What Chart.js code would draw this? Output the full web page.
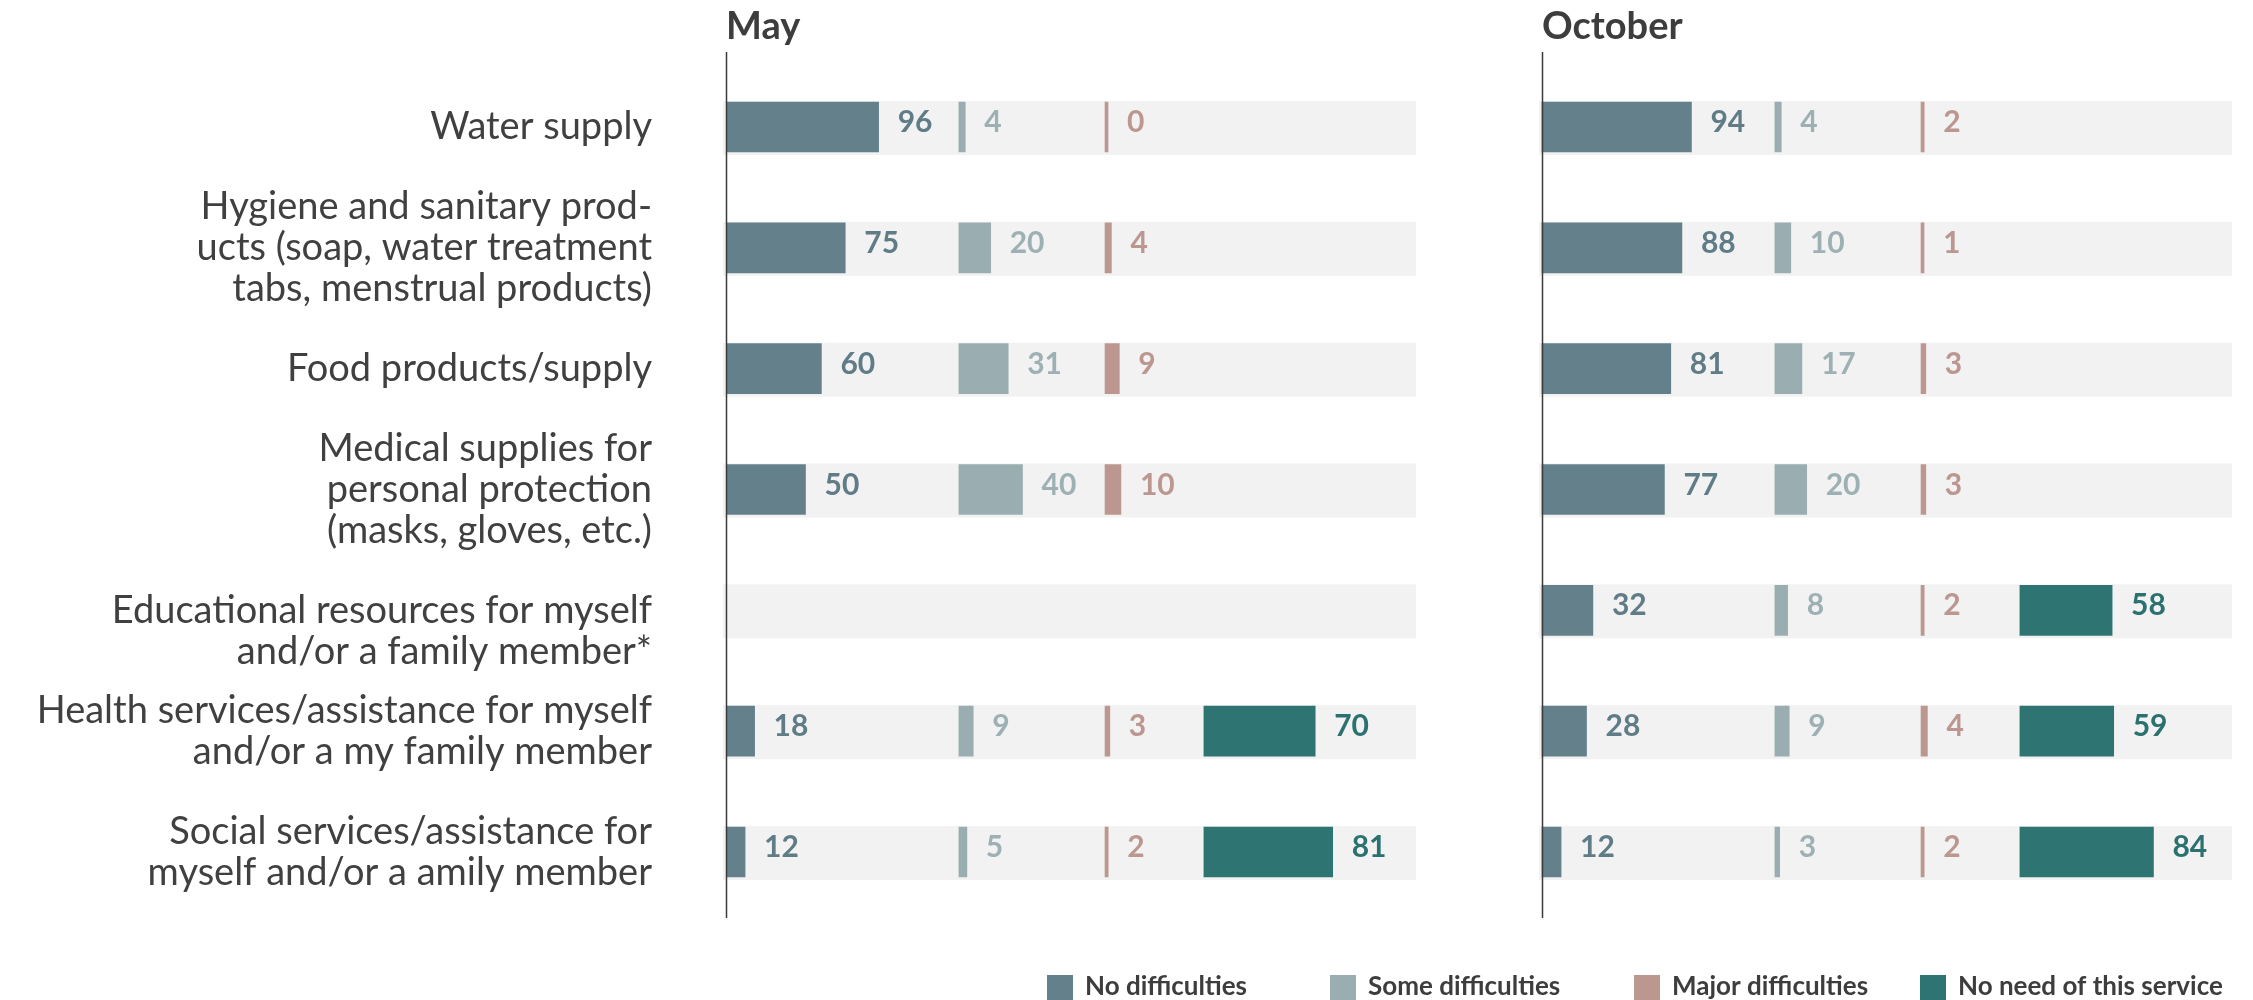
<!DOCTYPE html>
<html><head><meta charset="utf-8">
<script src="https://cdn.jsdelivr.net/npm/chart.js@4.4.1/dist/chart.umd.min.js"></script>
<style>html,body{margin:0;padding:0;background:#fff;}#wrap{position:relative;width:2253px;height:1000px;}</style>
</head><body><div id="wrap"><canvas id="chart" width="2253" height="1000"></canvas></div>
<script>
// ---------- data ----------
const categories = [
  "Water supply",
  ["Hygiene and sanitary prod-", "ucts (soap, water treatment", "tabs, menstrual products)"],
  "Food products/supply",
  ["Medical supplies for", "personal protection", "(masks, gloves, etc.)"],
  ["", "Educational resources for myself", "and/or a family member*"],
  ["Health services/assistance for myself", "and/or a my family member"],
  ["Social services/assistance for", "myself and/or a amily member"]
];
const periods = ["May", "October"];
const seriesNames = ["No difficulties", "Some difficulties", "Major difficulties", "No need of this service"];

const mayNoDifficulties    = [96, 75, 60, 50, null, 18, 12];
const maySomeDifficulties  = [4, 20, 31, 40, null, 9, 5];
const mayMajorDifficulties = [0, 4, 9, 10, null, 3, 2];
const mayNoNeed            = [null, null, null, null, null, 70, 81];

const octNoDifficulties    = [94, 88, 81, 77, 32, 28, 12];
const octSomeDifficulties  = [4, 10, 17, 20, 8, 9, 3];
const octMajorDifficulties = [2, 1, 3, 3, 2, 4, 2];
const octNoNeed            = [null, null, null, null, 58, 59, 84];

// ---------- layout / style ----------
const COLORS = ["#64808b", "#9aaeb1", "#bc978f", "#2d7473"];
const LABEL_COLORS = ["#5f7c87", "#9db1b4", "#bb9790", "#2b7170"];
const COLUMN_START = [0, 146.5, 238.4, 300.6];   // start of each column inside a panel (value units)
const PANEL_UNITS = 434;                          // width of grey band in value units
const PANEL_PX = 690;                             // width of grey band in pixels
const AXIS_X = [726, 1542];                       // panel axis positions
const PLOT_RIGHT = 2232;
const U = PANEL_UNITS / PANEL_PX;
const X_MAX = (PLOT_RIGHT - AXIS_X[0]) * U;
const OCT_SHIFT = (AXIS_X[1] - AXIS_X[0]) * U;
const LEGEND_X = [1047, 1330, 1634, 1920];
const FONT = "Lato";
const TEXT_DARK = "#3d3d3d";

const panelValues = [
  [mayNoDifficulties, maySomeDifficulties, mayMajorDifficulties, mayNoNeed],
  [octNoDifficulties, octSomeDifficulties, octMajorDifficulties, octNoNeed]
];
const scaleIds = ["xMay", "xOct"];

const datasets = [];
panelValues.forEach((vals, p) => vals.forEach((arr, s) => {
  datasets.push({
    label: seriesNames[s] + " (" + periods[p] + ")",
    seriesIndex: s,
    data: arr.map(v => v == null ? null : [COLUMN_START[s], COLUMN_START[s] + v]),
    xAxisID: scaleIds[p],
    yAxisID: "y",
    backgroundColor: COLORS[s],
    borderWidth: 0,
    grouped: false,
    barThickness: 50,
    minBarLength: 3
  });
}));

const decorPlugin = {
  id: "decor",
  beforeDatasetsDraw(chart) {
    const {ctx} = chart, y = chart.scales.y;
    ctx.save();
    ctx.fillStyle = "#f2f2f2";
    scaleIds.forEach(id => {
      const sx = chart.scales[id];
      const x0 = sx.getPixelForValue(0) - 3, x1 = sx.getPixelForValue(PANEL_UNITS);
      categories.forEach((c, i) => {
        const cy = y.getPixelForValue(i);
        ctx.fillRect(x0, cy - 26, x1 - x0, 54);
      });
    });
    ctx.restore();
  },
  afterDatasetsDraw(chart) {
    const {ctx} = chart;
    ctx.save();
    // value labels
    ctx.font = "bold 30px " + FONT;
    ctx.textBaseline = "alphabetic";
    ctx.textAlign = "left";
    chart.data.datasets.forEach((ds, di) => {
      const meta = chart.getDatasetMeta(di);
      meta.data.forEach((el, i) => {
        const raw = ds.data[i];
        if (raw == null) return;
        const v = Math.round(raw[1] - raw[0]);
        ctx.fillStyle = LABEL_COLORS[ds.seriesIndex];
        ctx.fillText(String(v), Math.max(el.x, el.base) + 19, el.y + 5);
      });
    });
    // panel axis lines + titles
    scaleIds.forEach((id, p) => {
      const x = Math.round(chart.scales[id].getPixelForValue(0)) + 0.5;
      ctx.strokeStyle = "#3a3a3a";
      ctx.lineWidth = 1.5;
      ctx.beginPath(); ctx.moveTo(x, 52); ctx.lineTo(x, 918); ctx.stroke();
      ctx.fillStyle = TEXT_DARK;
      ctx.font = "bold 38px " + FONT;
      ctx.fillText(periods[p], x - 0.5, 39);
    });
    // legend
    ctx.font = "bold 26px " + FONT;
    ctx.textBaseline = "middle";
    seriesNames.forEach((name, s) => {
      ctx.fillStyle = COLORS[s];
      ctx.fillRect(LEGEND_X[s], 975, 26, 25);
      ctx.fillStyle = TEXT_DARK;
      ctx.fillText(name, LEGEND_X[s] + 38, 987);
    });
    ctx.restore();
  }
};

Chart.defaults.font.family = FONT;
new Chart(document.getElementById("chart"), {
  type: "bar",
  data: {labels: categories, datasets},
  options: {
    indexAxis: "y",
    responsive: false,
    animation: false,
    devicePixelRatio: 1,
    layout: {padding: {top: 66.6, bottom: 87.6, left: 0, right: 2253 - PLOT_RIGHT}},
    plugins: {legend: {display: false}, tooltip: {enabled: false}, title: {display: false}},
    scales: {
      y: {
        type: "category",
        grid: {display: false, drawTicks: false},
        border: {display: false},
        ticks: {autoSkip: false, padding: 74, color: "#404040", font: {family: FONT, size: 38, lineHeight: 41 / 38}},
        afterFit(s) { s.width = AXIS_X[0]; s.paddingTop = 0; s.paddingBottom = 0; }
      },
      xMay: {type: "linear", display: false, min: 0, max: X_MAX},
      xOct: {type: "linear", display: false, min: -OCT_SHIFT, max: X_MAX - OCT_SHIFT}
    }
  },
  plugins: [decorPlugin]
});
</script></body></html>
